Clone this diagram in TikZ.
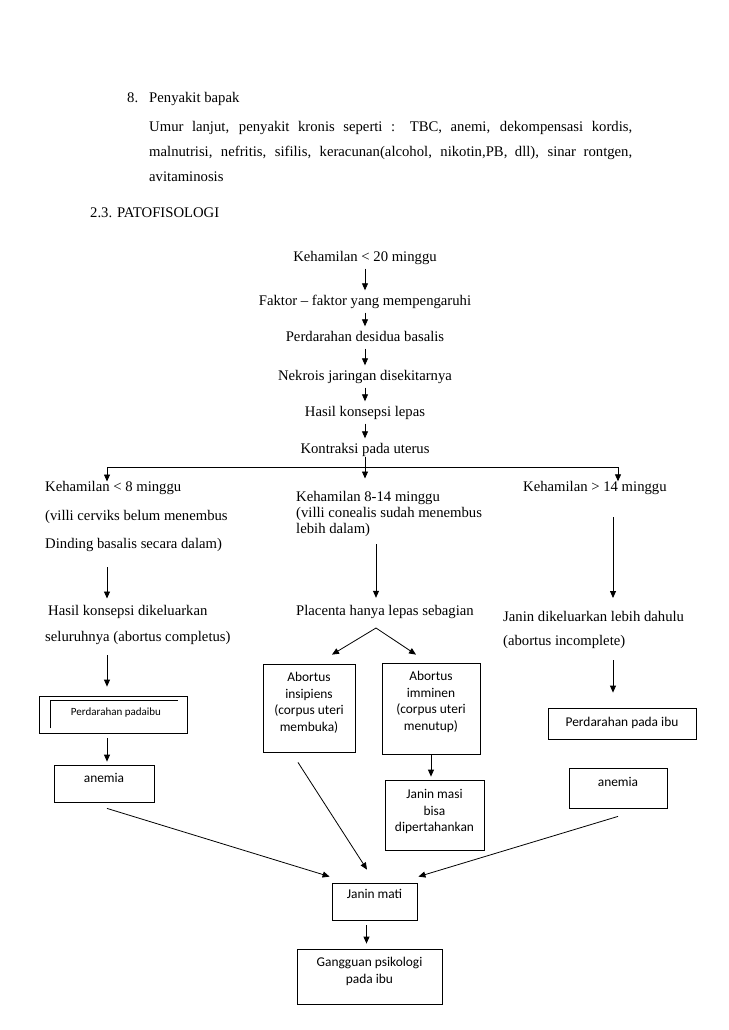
\documentclass[tikz,border=0pt]{standalone}
\usepackage{fontspec}
\setmainfont{Liberation Serif}
\newfontfamily\calibri{Carlito}
\usepackage{tikz}
\usetikzlibrary{arrows.meta}

\newcommand{\boxtxt}[4]{\begin{minipage}[c][#2][t]{#1}\centering\vspace*{#3}\strut#4\end{minipage}}

\begin{document}
\begin{tikzpicture}[
    x=1pt, y=-1pt,
    txt/.style={font=\fontsize{14.7}{17}\selectfont, inner sep=0pt},
    one/.style={txt, text height=10pt, text depth=3pt},
    tbox/.style={draw, line width=0.8pt, inner sep=0pt, font=\calibri\fontsize{13.4}{16.5}\selectfont},
    arr/.style={-{Triangle[length=7pt,width=6pt]}, line width=0.8pt},
    ln/.style={line width=0.8pt}
]
\useasboundingbox[fill=white] (0,0) rectangle (728,1030);

\node[one, anchor=west] (no8) at (127,99) {8.};
\node[one, anchor=west] (bapak) at (149,99) {Penyakit bapak};
\node[txt, anchor=north west, text width=483pt, align=justify, font=\fontsize{14.7}{25}\selectfont] (umur) at (149,121)
    {Umur lanjut, penyakit kronis seperti : TBC, anemi, dekompensasi kordis,\linebreak
     malnutrisi, nefritis, sifilis, keracunan(alcohol, nikotin,PB, dll), sinar rontgen,\linebreak
     avitaminosis};
\node[one, anchor=west] (pato) at (90,214) {2.3. PATOFISOLOGI};

\node[one] (k20) at (365,258) {Kehamilan < 20 minggu};
\node[one] (faktor) at (365,302) {Faktor – faktor yang mempengaruhi};
\node[one] (desidua) at (365,338) {Perdarahan desidua basalis};
\node[one] (nekrois) at (365,377) {Nekrois jaringan disekitarnya};
\node[one] (lepas) at (365,413) {Hasil konsepsi lepas};
\node[one] (kontraksi) at (365,450) {Kontraksi pada uterus};
\foreach \a/\b in {k20/faktor, faktor/desidua, desidua/nekrois, nekrois/lepas, lepas/kontraksi}
    \draw[arr, shorten <=4pt, shorten >=5pt] (\a) -- (\b);

\coordinate (barL) at (107,467);
\coordinate (barR) at (618,467);
\coordinate (apex) at (376,628);
\coordinate (colR) at (613,0);

% kiri
\node[txt, anchor=north west, align=left, font=\fontsize{14.7}{28.5}\selectfont] (k8) at (45,481.5)
    {Kehamilan < 8 minggu\\(villi cerviks belum menembus\\Dinding basalis secara dalam)};
\node[txt, anchor=north west, align=left, font=\fontsize{14.7}{26}\selectfont] (hasil8) at (45,605.5)
    {\hspace*{3pt}Hasil konsepsi dikeluarkan\\seluruhnya (abortus completus)};
\node[tbox, font=\calibri\fontsize{11}{16.5}\selectfont] (perdL) at (113,714.5) {\boxtxt{148pt}{37pt}{8.3pt}{\hspace*{6pt}Perdarahan padaibu}};
\node[tbox] (anemiaL) at (104,783.5) {\boxtxt{100pt}{37pt}{6.3pt}{anemia}};

% tengah
\node[txt, anchor=north west, align=left, font=\fontsize{14.7}{16}\selectfont] (k814) at (296,491.5)
    {Kehamilan 8-14 minggu\\(villi conealis sudah menembus\\lebih dalam)};
\node[one, anchor=west] (placenta) at (296,612) {Placenta hanya lepas sebagian};
\node[tbox] (insipiens) at (309,708) {\boxtxt{92pt}{88pt}{6.3pt}{Abortus\\insipiens\\(corpus uteri\\membuka)}};
\node[tbox] (imminen) at (431,708.5) {\boxtxt{98pt}{91pt}{6.3pt}{Abortus\\imminen\\(corpus uteri\\menutup)}};
\node[tbox] (janinmasi) at (434.5,815) {\boxtxt{99pt}{70pt}{7.3pt}{Janin masi\\bisa\\dipertahankan}};
\node[tbox] (janinmati) at (374.5,901.5) {\boxtxt{85pt}{37pt}{4.3pt}{Janin mati}};
\node[tbox] (gangguan) at (369.5,976.5) {\boxtxt{145pt}{55pt}{6.3pt}{Gangguan psikologi\\pada ibu}};

% kanan
\node[one, anchor=west] (k14) at (523,488) {Kehamilan > 14 minggu};
\node[txt, anchor=north west, align=left, font=\fontsize{14.7}{24}\selectfont] (janin14) at (503,611.5)
    {Janin dikeluarkan lebih dahulu\\(abortus incomplete)};
\node[tbox] (perdR) at (622,723.5) {\boxtxt{148pt}{31pt}{7.3pt}{Perdarahan pada ibu}};
\node[tbox] (anemiaR) at (618,788) {\boxtxt{98pt}{40pt}{7.3pt}{anemia}};

\draw[ln] (barL) -- (barR);
\draw[arr] (barL) -- (barL |- k8.north);
\draw[arr] (barR) -- (barR |- k14.north);
\draw[arr, shorten >=13pt] (kontraksi) -- (kontraksi |- k814.north);

\draw[arr, shorten <=15pt, shorten >=7pt] (k8.south -| barL) -- (hasil8.north -| barL);
\draw[arr, shorten <=10pt, shorten >=9pt] (hasil8.south -| barL) -- (perdL.north -| barL);
\draw[line width=0.6pt] ([xshift=12pt,yshift=5pt]perdL.south west) |- ([xshift=-9pt,yshift=-5pt]perdL.north east);
\draw[arr, shorten <=5pt, shorten >=3pt] (perdL.south -| barL) -- (anemiaL.north -| barL);

\draw[arr, shorten <=7pt, shorten >=7.5pt] (k814.south -| apex) -- (placenta.north -| apex);
\draw[arr] (apex) -- ([xshift=23pt,yshift=9pt]insipiens.north);
\draw[arr] (apex) -- ([xshift=-15pt,yshift=8pt]imminen.north);
\draw[arr, shorten >=3pt] (imminen.south) -- (imminen.south |- janinmasi.north);

\draw[arr, shorten <=22.5pt, shorten >=13.5pt] (k14.south -| colR) -- (janin14.north -| colR);
\draw[arr, shorten <=11pt, shorten >=15pt] (janin14.south -| colR) -- (perdR.north -| colR);

\draw[arr] ([xshift=3pt,yshift=-6pt]anemiaL.south) -- ([xshift=-2pt,yshift=6pt]janinmati.north west);
\draw[arr] ([xshift=-11pt,yshift=-10pt]insipiens.south) -- ([xshift=-7.5pt,yshift=13pt]janinmati.north);
\draw[arr] ([yshift=-8pt]anemiaR.south) -- ([xshift=1pt,yshift=6pt]janinmati.north east);
\draw[arr, shorten <=5pt, shorten >=5pt] ([xshift=-8pt]janinmati.south) -- ([xshift=-8pt]janinmati.south |- gangguan.north);
\end{tikzpicture}
\end{document}
